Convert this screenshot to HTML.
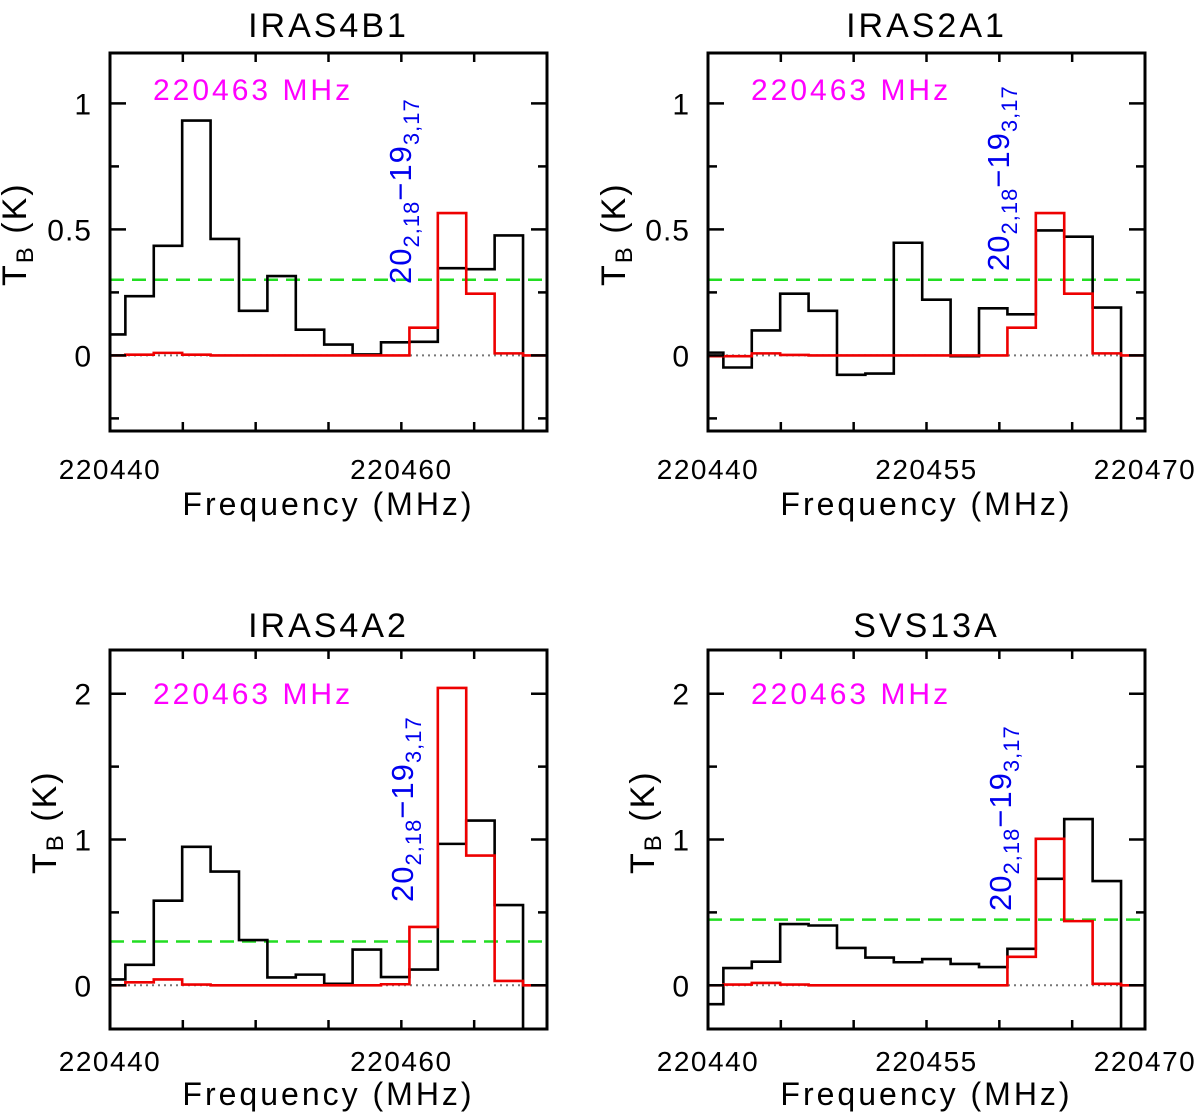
<!DOCTYPE html>
<html><head><meta charset="utf-8"><style>
html,body{margin:0;padding:0;background:#fff;}
svg{display:block;font-family:"Liberation Sans",sans-serif;}
</style></head><body>
<svg id="fig" width="1200" height="1116" viewBox="0 0 1200 1116" xmlns="http://www.w3.org/2000/svg"></svg>
<script>
// channel centre frequencies (MHz)
const chanFreq = [220440.08,220442.03,220443.98,220445.93,220447.88,220449.83,220451.78,220453.73,220455.68,220457.63,220459.58,220461.53,220463.48,220465.43,220467.38,220469.33];
// observed (black)
const obsIRAS4B1 = [0.083,0.235,0.435,0.932,0.462,0.177,0.315,0.102,0.043,0.004,0.052,0.054,0.346,0.342,0.476,-1];
const obsIRAS2A1 = [0.011,-0.048,0.099,0.245,0.177,-0.077,-0.072,0.447,0.221,-0.003,0.187,0.163,0.496,0.471,0.19,-1];
const obsIRAS4A2 = [0.04,0.14,0.58,0.95,0.78,0.31,0.054,0.073,0.01,0.245,0.056,0.108,0.97,1.13,0.55,-1];
const obsSVS13A = [-0.13,0.118,0.162,0.42,0.41,0.256,0.19,0.158,0.18,0.146,0.125,0.25,0.73,1.14,0.715,-1];
// model (red)
const modIRAS4B1 = [0,0.003,0.01,0.003,0,0,0,0,0,0,0,0.11,0.565,0.245,0.008,0];
const modIRAS2A1 = [-0.003,-0.003,0.008,0.002,0,0,0,0,0,0,0,0.11,0.565,0.245,0.008,0];
const modIRAS4A2 = [0,0.02,0.04,0.005,0,0,0,0,0,0,0.007,0.40,2.04,0.89,0.03,0];
const modSVS13A = [0,0.005,0.016,0.005,0,0,0,0,0,0,0,0.195,1.005,0.44,0.01,0];
// 3-sigma levels (green)
const sigmaLevels = [0.30,0.30,0.30,0.45];
const panelTitles = ["IRAS4B1","IRAS2A1","IRAS4A2","SVS13A"];
const xTickLabelsA = [220440,220460];
const xTickLabelsB = [220440,220455,220470];
const yTickLabelsTop = [0,0.5,1];
const yTickLabelsBot = [0,1,2];

const NS="http://www.w3.org/2000/svg";
const svg=document.getElementById('fig');
function mk(tag,attrs,parent){const e=document.createElementNS(NS,tag);for(const k in attrs)e.setAttribute(k,attrs[k]);(parent||svg).appendChild(e);return e;}

const panels=[
 {x0:110,x1:547,y0:53,y1:431,ymin:-0.3,ymax:1.2,obs:obsIRAS4B1,mod:modIRAS4B1,xl:xTickLabelsA,yl:yTickLabelsTop,minor:0.25,tb:37,lab:{x:411,y:284},ylab:{x:26,y:286},mag:100,xlb:479,fb:515},
 {x0:708,x1:1145,y0:53,y1:431,ymin:-0.3,ymax:1.2,obs:obsIRAS2A1,mod:modIRAS2A1,xl:xTickLabelsB,yl:yTickLabelsTop,minor:0.25,tb:37,lab:{x:1009,y:271},ylab:{x:625,y:286},mag:100,xlb:479,fb:515},
 {x0:110,x1:547,y0:650,y1:1029,ymin:-0.3,ymax:2.3,obs:obsIRAS4A2,mod:modIRAS4A2,xl:xTickLabelsA,yl:yTickLabelsBot,minor:0.5,tb:637,lab:{x:413,y:902},ylab:{x:56,y:874},mag:704,xlb:1071,fb:1105},
 {x0:708,x1:1145,y0:650,y1:1029,ymin:-0.3,ymax:2.3,obs:obsSVS13A,mod:modSVS13A,xl:xTickLabelsB,yl:yTickLabelsBot,minor:0.5,tb:637,lab:{x:1011,y:911},ylab:{x:654,y:874},mag:704,xlb:1071,fb:1105}
];
const FMIN=220440,FMAX=220470,CW=1.95;

panels.forEach((p,i)=>{
 const g=mk('g',{});
 
 
 const X=f=>p.x0+(f-FMIN)/(FMAX-FMIN)*(p.x1-p.x0);
 const Y=v=>p.y1-(v-p.ymin)/(p.ymax-p.ymin)*(p.y1-p.y0);
 const cid='clip'+i;
 const cp=mk('clipPath',{id:cid},g);mk('rect',{x:p.x0,y:p.y0,width:p.x1-p.x0,height:p.y1-p.y0},cp);
 const t=mk('text',{x:(p.x0+p.x1)/2,y:p.tb,'font-size':34,'letter-spacing':3,'text-anchor':'middle',fill:'#000'},g);t.textContent=panelTitles[i];
 
 const z=mk('line',{x1:p.x0,x2:p.x1,y1:Y(0),y2:Y(0),stroke:'#777','stroke-width':2,'stroke-dasharray':'2,4'},g);
 
 const gl=mk('line',{x1:p.x0,x2:p.x1,y1:Y(sigmaLevels[i]),y2:Y(sigmaLevels[i]),stroke:'#22dd22','stroke-width':2.5,'stroke-dasharray':'14,8'},g);
 
 function step(vals,color,name){
  let d='';
  vals.forEach((v,k)=>{const a=X(chanFreq[k]-CW/2),b=X(chanFreq[k]+CW/2),y=Y(v);d+=(k===0?'M':'L')+a+','+y+'L'+b+','+y;});
  const s=mk('path',{d:d,fill:'none',stroke:color,'stroke-width':2.6,'clip-path':'url(#'+cid+')'},g);
  
 }
 step(p.obs,'#000','observed-spectrum');
 step(p.mod,'#ee0000','model-spectrum');
 const fr=mk('rect',{x:p.x0,y:p.y0,width:p.x1-p.x0,height:p.y1-p.y0,fill:'none',stroke:'#000','stroke-width':3},g);
 
 for(let f=FMIN+5;f<FMAX;f+=5){mk('line',{x1:X(f),x2:X(f),y1:p.y1,y2:p.y1-9,stroke:'#000','stroke-width':2.5},g);mk('line',{x1:X(f),x2:X(f),y1:p.y0,y2:p.y0+9,stroke:'#000','stroke-width':2.5},g);}
 p.xl.forEach(f=>{const tx=mk('text',{x:X(f),y:p.xlb,'font-size':28,'letter-spacing':1.5,'text-anchor':'middle'},g);tx.textContent=f;
  });
 const fl=mk('text',{x:(p.x0+p.x1)/2,y:p.fb,'font-size':32,'letter-spacing':3,'text-anchor':'middle'},g);fl.textContent='Frequency (MHz)';
 
 for(let v=Math.ceil(p.ymin/p.minor)*p.minor;v<=p.ymax+1e-9;v+=p.minor){
  const major=Math.abs(v/(p.minor*2)-Math.round(v/(p.minor*2)))<1e-6;const L=major?16:9;
  mk('line',{x1:p.x0,x2:p.x0+L,y1:Y(v),y2:Y(v),stroke:'#000','stroke-width':2.5},g);
  mk('line',{x1:p.x1,x2:p.x1-L,y1:Y(v),y2:Y(v),stroke:'#000','stroke-width':2.5},g);
 }
 p.yl.forEach(v=>{const ty=mk('text',{x:p.x0-18,y:Y(v)+11,'font-size':30,'letter-spacing':1,'text-anchor':'end'},g);ty.textContent=v;
  });
 const yt=mk('text',{x:p.ylab.x,y:p.ylab.y,'font-size':34,'letter-spacing':2,transform:'rotate(-90 '+p.ylab.x+' '+p.ylab.y+')'},g);
 yt.innerHTML='T<tspan font-size="24" dy="7">B</tspan><tspan dy="-7"> (K)</tspan>';
 
 const mg=mk('text',{x:p.x0+43,y:p.mag,'font-size':30,'letter-spacing':3,fill:'#ff00ff'},g);mg.textContent='220463 MHz';
 
 const bl=mk('text',{x:p.lab.x,y:p.lab.y,'font-size':31,'letter-spacing':1,fill:'#0000ee',transform:'rotate(-90 '+p.lab.x+' '+p.lab.y+')'},g);
 bl.innerHTML='20<tspan font-size="22" dy="8">2,18</tspan><tspan dy="-8">−19</tspan><tspan font-size="22" dy="8">3,17</tspan>';
 
});
</script>
</body></html>
